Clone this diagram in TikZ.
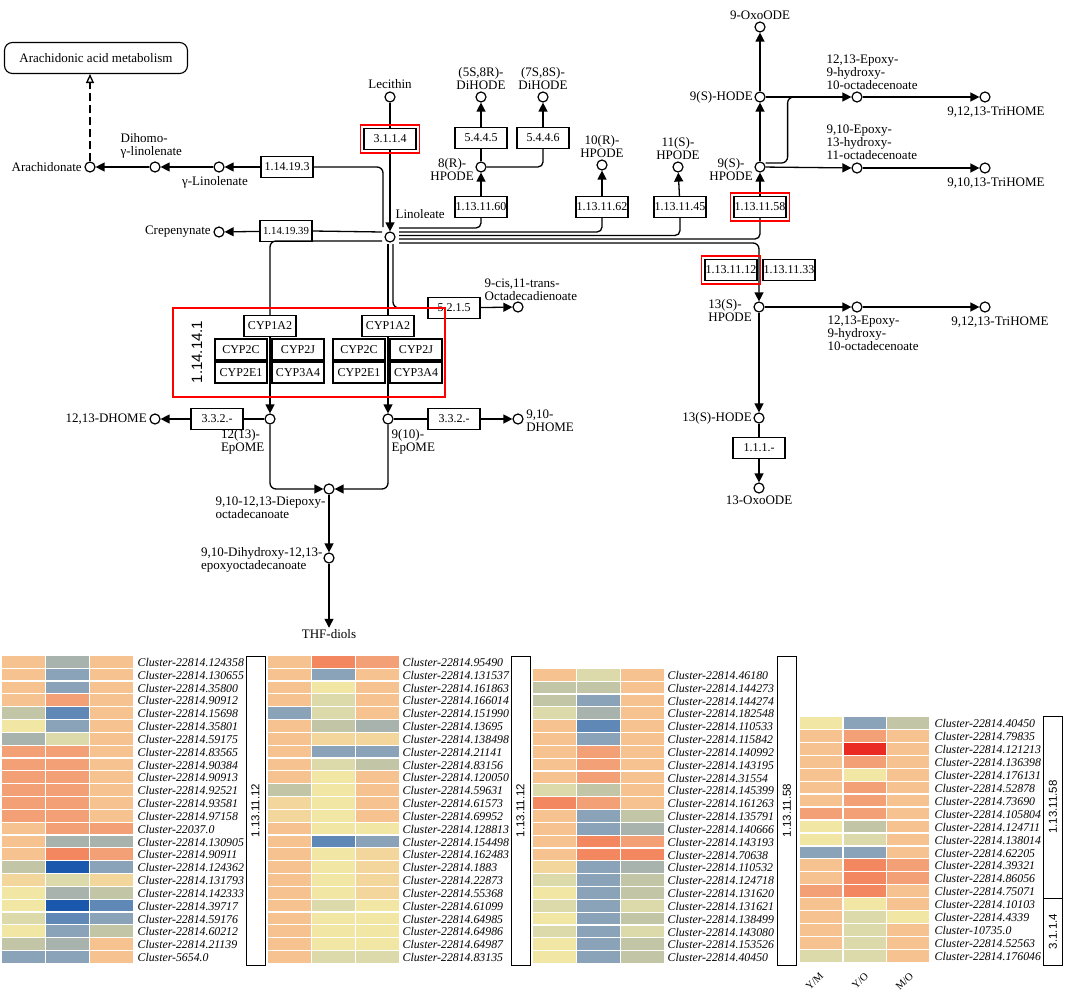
\documentclass[tikz,border=0pt]{standalone}
\usepackage{fontspec}
\setmainfont{Liberation Serif}
\setsansfont{Liberation Sans}
\usetikzlibrary{arrows.meta,positioning,calc}

\definecolor{hO}{HTML}{F6C28F}
\definecolor{hP}{HTML}{F3D69B}
\definecolor{hS}{HTML}{F4A077}
\definecolor{hR}{HTML}{F3875F}
\definecolor{hX}{HTML}{E92B24}
\definecolor{hY}{HTML}{F2E6A4}
\definecolor{hK}{HTML}{DCDAAA}
\definecolor{hG}{HTML}{C2C6A6}
\definecolor{hA}{HTML}{A7B3AC}
\definecolor{hB}{HTML}{8AA3B8}
\definecolor{hM}{HTML}{5F88B7}
\definecolor{hD}{HTML}{1A58AE}

\newcommand\kegg{\fontsize{13}{13}\selectfont}

\tikzset{
  cpd/.style={circle, draw, fill=white, line width=1.2pt, minimum size=10pt, inner sep=0pt},
  ec/.style={rectangle, draw, fill=white, line width=1.1pt, minimum width=52pt,
    minimum height=21pt, inner sep=0pt, font=\fontsize{12}{12}\selectfont},
  lbl/.style={inner sep=1pt, font=\kegg, align=center},
  rx/.style={-{Triangle[length=9pt,width=9pt]}},
  hl/.style={draw=red, line width=1.2pt},
  clu/.style={anchor=west, inner sep=0pt, font=\itshape\fontsize{11.8}{12}\selectfont},
  brk/.style={draw, rotate=90, line width=0.9pt, minimum height=19pt, inner sep=0pt,
    font=\sffamily\fontsize{11.5}{11.5}\selectfont},
  collab/.style={anchor=east, rotate=45, inner sep=0pt, font=\fontsize{10.5}{10.5}\selectfont},
}

\begin{document}
\begin{tikzpicture}[x=1pt, y=-1pt, line width=1.3pt]
\useasboundingbox[fill=white] (0,0) rectangle (1065,995);

% compounds
\node[cpd] (arach) at (90,167) {};
\node[cpd] (dglin) at (155,167) {};
\node[cpd] (glin) at (219,167) {};
\node[cpd] (crep) at (219,232) {};
\node[cpd] (lec) at (390,97) {};
\node[cpd] (lin) at (390,237) {};
\node[cpd] (dh58) at (481,97) {};
\node[cpd] (dh78) at (543,97) {};
\node[cpd] (hp8) at (481,167) {};
\node[cpd] (hp10) at (602,165) {};
\node[cpd] (hp11) at (678,167) {};
\node[cpd] (oxo9) at (760,27) {};
\node[cpd] (hode9) at (760,97) {};
\node[cpd] (hp9) at (760,167) {};
\node[cpd] (ep12a) at (857,97) {};
\node[cpd] (tri12a) at (985,97) {};
\node[cpd] (ep910) at (857,168) {};
\node[cpd] (tri910) at (985,168) {};
\node[cpd] (hp13) at (759,307) {};
\node[cpd] (ep12b) at (857,307) {};
\node[cpd] (tri12b) at (985,307) {};
\node[cpd] (hode13) at (759,418) {};
\node[cpd] (oxo13) at (759,488) {};
\node[cpd] (cisod) at (518,307) {};
\node[cpd] (epL) at (270,419) {};
\node[cpd] (epR) at (388,419) {};
\node[cpd] (dhome12) at (155,419) {};
\node[cpd] (dhome910) at (518,419) {};
\node[cpd] (diep) at (329,489) {};
\node[cpd] (dihy) at (329,558) {};
\node[lbl] (thf) at (329,634) {THF-diols};
\node[draw, rounded corners=8pt, line width=1.1pt, minimum width=183pt, minimum height=31pt,
  font=\kegg] (aam) at (96,58) {Arachidonic acid metabolism};

% compound labels
\node[lbl, left=1pt of arach] (arachl) {Arachidonate};
\node[lbl, align=left, anchor=south west] (dglinl) at (119,160) {Dihomo-\\γ-linolenate};
\node[lbl, below=2pt of glin, xshift=-4pt] (glinl) {γ-Linolenate};
\node[lbl, left=1pt of crep] (crepl) {Crepenynate};
\node[lbl, above=1pt of lec] (lecl) {Lecithin};
\node[lbl, anchor=south west] (linl) at (394,220) {Linoleate};
\node[lbl, above=0pt of dh58] (dh58l) {(5S,8R)-\\DiHODE};
\node[lbl, above=0pt of dh78] (dh78l) {(7S,8S)-\\DiHODE};
\node[lbl, left=0pt of hp8, yshift=-3pt] (hp8l) {8(R)-\\HPODE};
\node[lbl, above=0pt of hp10] (hp10l) {10(R)-\\HPODE};
\node[lbl, above=0pt of hp11] (hp11l) {11(S)-\\HPODE};
\node[lbl, above=0pt of oxo9] (oxo9l) {9-OxoODE};
\node[lbl, left=0pt of hode9] (hode9l) {9(S)-HODE};
\node[lbl, left=0pt of hp9, yshift=-3pt] (hp9l) {9(S)-\\HPODE};
\node[lbl, align=left, anchor=south west] (ep12al) at (825,91) {12,13-Epoxy-\\9-hydroxy-\\10-octadecenoate};
\node[lbl, anchor=north] (tri12al) at (996,105) {9,12,13-TriHOME};
\node[lbl, align=left, anchor=south west] (ep910l) at (825,161) {9,10-Epoxy-\\13-hydroxy-\\11-octadecenoate};
\node[lbl, anchor=north] (tri910l) at (996,176) {9,10,13-TriHOME};
\node[lbl, align=left, left=0pt of hp13, yshift=-4pt] (hp13l) {13(S)-\\HPODE};
\node[lbl, align=left, anchor=north west] (ep12bl) at (826,314) {12,13-Epoxy-\\9-hydroxy-\\10-octadecenoate};
\node[lbl, anchor=north] (tri12bl) at (1000,315) {9,12,13-TriHOME};
\node[lbl, left=0pt of hode13] (hode13l) {13(S)-HODE};
\node[lbl, below=1pt of oxo13] (oxo13l) {13-OxoODE};
\node[lbl, align=left, anchor=south west] (cisodl) at (483,302) {9-cis,11-trans-\\Octadecadienoate};
\node[lbl, align=left, anchor=north east] (epLl) at (266,428) {12(13)-\\EpOME};
\node[lbl, align=left, anchor=north west] (epRl) at (390,428) {9(10)-\\EpOME};
\node[lbl, left=1pt of dhome12] (dhome12l) {12,13-DHOME};
\node[lbl, align=left, right=1pt of dhome910, yshift=-2pt] (dhome910l) {9,10-\\DHOME};
\node[lbl, align=left, anchor=north east] (diepl) at (327,495) {9,10-12,13-Diepoxy-\\octadecanoate};
\node[lbl, align=left, anchor=east] (dihyl) at (324,560) {9,10-Dihydroxy-12,13-\\epoxyoctadecanoate};

% enzymes
\node[ec] (e1141) at (287,167) {1.14.19.3};
\node[ec, font=\fontsize{10.8}{10.8}\selectfont] (ecrep) at (286,231) {1.14.19.39};
\node[ec] (e3114) at (390,139) {3.1.1.4};
\node[ec] (e545) at (481,138) {5.4.4.5};
\node[ec] (e546) at (543,138) {5.4.4.6};
\node[ec] (e60) at (481,207) {1.13.11.60};
\node[ec] (e62) at (602,207) {1.13.11.62};
\node[ec] (e45) at (680,207) {1.13.11.45};
\node[ec] (e58) at (760,207) {1.13.11.58};
\node[ec] (e12) at (731,270) {1.13.11.12};
\node[ec] (e33) at (789,270) {1.13.11.33};
\node[ec] (e5215) at (454,308) {5.2.1.5};
\node[ec] (e332L) at (217,419) {3.3.2.-};
\node[ec] (e332R) at (454,419) {3.3.2.-};
\node[ec] (e111) at (759,448) {1.1.1.-};
\foreach \g/\cx in {L/270, R/388} {
  \node[ec] (cyp1a2\g) at (\cx,326) {CYP1A2};
  \node[ec] (cyp2c\g) at (\cx-29,349.5) {CYP2C};
  \node[ec] (cyp2j\g) at (\cx+28,349.5) {CYP2J};
  \node[ec] (cyp2e1\g) at (\cx-29,372.5) {CYP2E1};
  \node[ec] (cyp3a4\g) at (\cx+28,372.5) {CYP3A4};
}
\node[rotate=90, font=\sffamily\fontsize{15}{15}\selectfont] (ec11414) at (197,352) {1.14.14.1};

% reactions around linoleate
\draw (lec) -- (e3114);
\draw[rx] (e3114) -- (lin);
\draw[rounded corners=6pt] ($(lin)+(-7,-10)$) |- (e1141.east);
\draw[rx] (e1141) -- (glin);
\draw[rx] (glin) -- (dglin);
\draw[rx] (dglin) -- (arach);
\draw[dashed, dash pattern=on 8pt off 4pt, -{Triangle[open,length=9pt,width=8pt]}]
  (arach) -- (arach |- aam.south);
\draw ($(lin)+(-8,-5)$) -- (ecrep.east);
\draw[rx] (ecrep) -- (crep);
\draw[rounded corners=6pt] ($(lin)+(-8,4)$) -| (cyp1a2L);
\draw ($(lin)+(-2,7)$) -- (cyp1a2R.north);
\draw[rx] (cyp1a2L.south) -- (epL);
\draw[rx] (cyp1a2R.south) -- (epR);
\draw[rounded corners=6pt] ($(lin)+(3,7)$) |- (e5215.west);
\draw[rx] (e5215) -- (cisod);

% lipoxygenase branches
\draw[rounded corners=5pt] ($(lin)+(9,-9)$) -| (e60.south);
\draw[rounded corners=5pt] ($(lin)+(9,-5)$) -| (e62.south);
\draw[rounded corners=5pt] ($(lin)+(9,-1.5)$) -| (e45.south);
\draw[rounded corners=5pt] ($(lin)+(9,2)$) -| (e58.south);
\draw[rx, rounded corners=6pt] ($(lin)+(9,6)$) -| (hp13);
\draw[rx] (e60) -- (hp8);
\draw (hp8) -- (e545);
\draw[rx] (e545) -- (dh58);
\draw[rounded corners=5pt] (hp8) -| (e546.south);
\draw[rx] (e546) -- (dh78);
\draw[rx] (e62) -- (hp10);
\draw[rx] (e45) -- (hp11);

% 9(S)-HPODE
\draw[rx] (e58) -- (hp9);
\draw[rx] (hp9) -- (hode9);
\draw[rx] (hode9) -- (oxo9);
\draw[rx] (hode9) -- (ep12a);
\draw[rx] (ep12a) -- (tri12a);
\draw[rx] (hp9) -- (ep910);
\draw[rx] (ep910) -- (tri910);
\draw[rounded corners=6pt] ($(hp9.east)+(0,-4)$) -| ($(hode9.east)+(22,0)$) -- ++(8,0);

% 13(S)-HPODE
\draw[rx] (hp13) -- (ep12b);
\draw[rx] (ep12b) -- (tri12b);
\draw[rx] (hp13) -- (hode13);
\draw (hode13) -- (e111);
\draw[rx] (e111) -- (oxo13);

% epoxides
\draw (epL) -- (e332L);
\draw[rx] (e332L) -- (dhome12);
\draw (epR) -- (e332R);
\draw[rx] (e332R) -- (dhome910);
\draw[rx, rounded corners=6pt] (epL) |- (diep);
\draw[rx, rounded corners=6pt] (epR) |- (diep);
\draw[rx] (diep) -- (dihy);
\draw[rx] (dihy) -- (thf.north);

% highlights
\foreach \n in {e3114, e58, e12}
  \draw[hl] ($(\n.south west)+(-3,3)$) rectangle ($(\n.north east)+(3,-3)$);
\draw[hl] (173,308) rectangle (445,397);

% heatmap 1
\foreach \lab/\ca/\cb/\cc [count=\i from 0] in {
  22814.124358/hO/hA/hO, 22814.130655/hO/hB/hO, 22814.35800/hO/hB/hO,
  22814.90912/hO/hS/hO, 22814.15698/hG/hM/hO, 22814.35801/hY/hB/hO,
  22814.59175/hA/hK/hO, 22814.83565/hS/hS/hO, 22814.90384/hS/hS/hO,
  22814.90913/hS/hS/hO, 22814.92521/hS/hS/hO, 22814.93581/hS/hS/hO,
  22814.97158/hS/hS/hO, 22037.0/hO/hS/hS, 22814.130905/hO/hA/hA,
  22814.90911/hO/hR/hS, 22814.124362/hG/hD/hB, 22814.131793/hP/hK/hP,
  22814.142333/hY/hA/hG, 22814.39717/hY/hD/hM, 22814.59176/hK/hM/hB,
  22814.60212/hY/hB/hG, 22814.21139/hG/hA/hO, 5654.0/hB/hB/hO} {
  \fill[\ca] (2,656+\i*12.83) rectangle ++(42.5,11.6);
  \fill[\cb] (46,656+\i*12.83) rectangle ++(42.5,11.6);
  \fill[\cc] (90,656+\i*12.83) rectangle ++(42.5,11.6);
  \node[clu] (ha\i) at (137,662.4+\i*12.83) {Cluster-\lab};
}
\node[brk, minimum width=309pt] (br1) at (255.5,810.5) {1.13.11.12};

% heatmap 2
\foreach \lab/\ca/\cb/\cc [count=\i from 0] in {
  22814.95490/hO/hR/hS, 22814.131537/hO/hB/hO, 22814.161863/hO/hY/hO,
  22814.166014/hO/hK/hO, 22814.151990/hB/hK/hO, 22814.13695/hO/hG/hA,
  22814.138498/hO/hP/hP, 22814.21141/hO/hB/hB, 22814.83156/hO/hK/hG,
  22814.120050/hO/hY/hO, 22814.59631/hG/hY/hO, 22814.61573/hP/hY/hO,
  22814.69952/hP/hY/hO, 22814.128813/hO/hY/hY, 22814.154498/hO/hM/hB,
  22814.162483/hO/hY/hP, 22814.1883/hO/hY/hP, 22814.22873/hO/hY/hP,
  22814.55368/hO/hY/hP, 22814.61099/hO/hK/hY, 22814.64985/hO/hY/hY,
  22814.64986/hO/hY/hY, 22814.64987/hO/hY/hY, 22814.83135/hO/hK/hK} {
  \fill[\ca] (268,656+\i*12.83) rectangle ++(42.5,11.6);
  \fill[\cb] (312,656+\i*12.83) rectangle ++(42.5,11.6);
  \fill[\cc] (356,656+\i*12.83) rectangle ++(42.5,11.6);
  \node[clu] (hb\i) at (402,662.4+\i*12.83) {Cluster-\lab};
}
\node[brk, minimum width=309pt] (br2) at (520.5,810.5) {1.13.11.12};

% heatmap 3
\foreach \lab/\ca/\cb/\cc [count=\i from 0] in {
  22814.46180/hO/hK/hO, 22814.144273/hG/hG/hO, 22814.144274/hG/hB/hO,
  22814.182548/hK/hA/hO, 22814.110533/hO/hM/hO, 22814.115842/hO/hB/hO,
  22814.140992/hO/hS/hO, 22814.143195/hO/hS/hO, 22814.31554/hO/hS/hO,
  22814.145399/hK/hG/hO, 22814.161263/hR/hS/hO, 22814.135791/hO/hB/hG,
  22814.140666/hO/hB/hA, 22814.143193/hO/hR/hS, 22814.70638/hO/hR/hR,
  22814.110532/hP/hB/hA, 22814.124718/hK/hB/hG, 22814.131620/hY/hB/hG,
  22814.131621/hK/hB/hK, 22814.138499/hY/hB/hG, 22814.143080/hK/hB/hK,
  22814.153526/hY/hB/hG, 22814.40450/hY/hB/hG} {
  \fill[\ca] (533,669+\i*12.83) rectangle ++(42.5,11.6);
  \fill[\cb] (577,669+\i*12.83) rectangle ++(42.5,11.6);
  \fill[\cc] (621,669+\i*12.83) rectangle ++(42.5,11.6);
  \node[clu] (hc\i) at (667,675.4+\i*12.83) {Cluster-\lab};
}
\node[brk, minimum width=309pt] (br3) at (787,810.5) {1.13.11.58};

% heatmap 4
\foreach \lab/\ca/\cb/\cc [count=\i from 0] in {
  22814.40450/hY/hB/hG, 22814.79835/hO/hS/hO, 22814.121213/hO/hX/hO,
  22814.136398/hO/hS/hO, 22814.176131/hO/hY/hO, 22814.52878/hO/hS/hO,
  22814.73690/hO/hS/hO, 22814.105804/hS/hS/hO, 22814.124711/hY/hG/hO,
  22814.138014/hY/hK/hO, 22814.62205/hB/hB/hO, 22814.39321/hO/hR/hS,
  22814.86056/hO/hR/hS, 22814.75071/hS/hR/hO, 22814.10103/hO/hY/hO,
  22814.4339/hO/hK/hY, 10735.0/hO/hK/hO, 22814.52563/hO/hK/hO,
  22814.176046/hK/hK/hO} {
  \fill[\ca] (800,717+\i*12.95) rectangle ++(42,11.7);
  \fill[\cb] (843.5,717+\i*12.95) rectangle ++(42,11.7);
  \fill[\cc] (887,717+\i*12.95) rectangle ++(42,11.7);
  \node[clu] (hd\i) at (934,723.5+\i*12.95) {Cluster-\lab};
}
\node[brk, minimum width=182pt] (br4a) at (1053,807) {1.13.11.58};
\node[brk, minimum width=67pt] (br4b) at (1053,931.5) {3.1.1.4};
\node[collab] (cYM) at (822,974) {Y/M};
\node[collab] (cYO) at (867,974) {Y/O};
\node[collab] (cMO) at (912,974) {M/O};
\end{tikzpicture}
\end{document}
